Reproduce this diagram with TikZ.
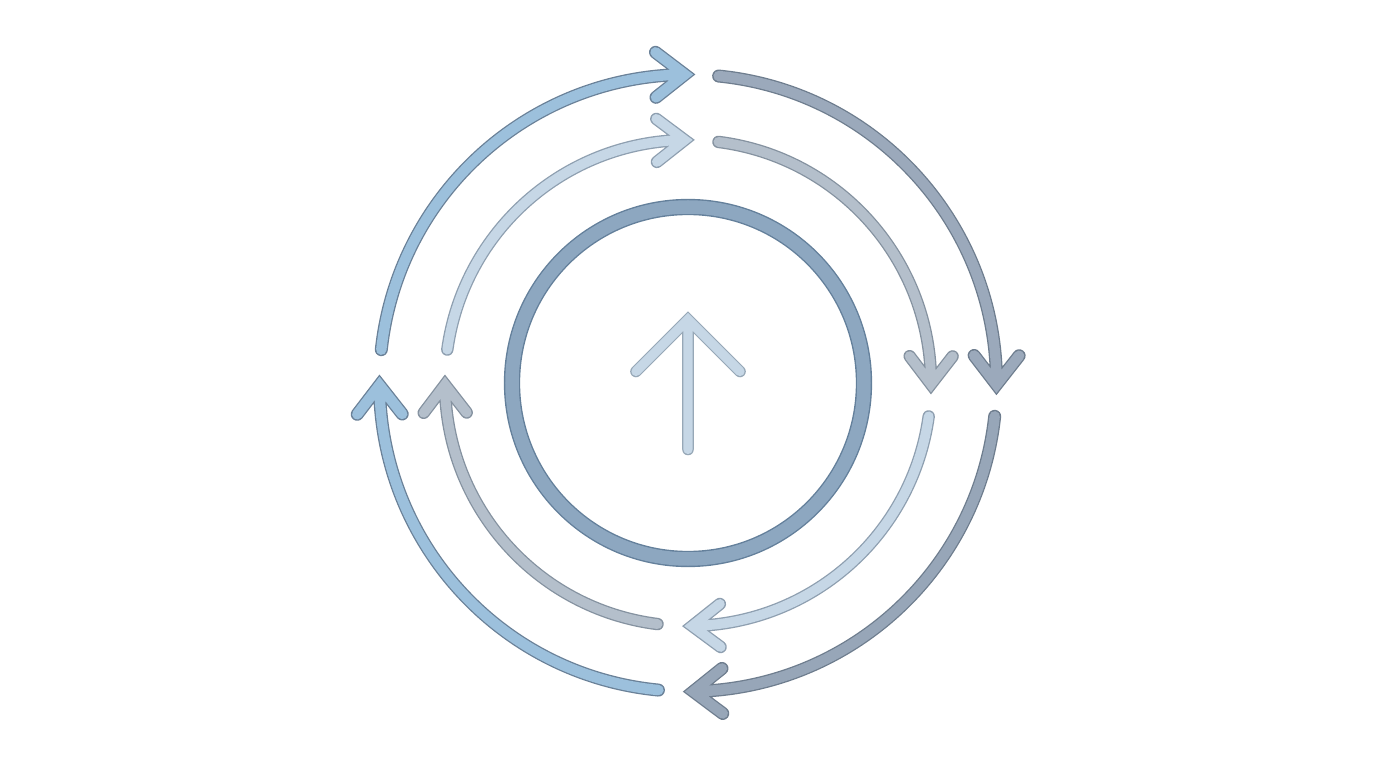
\documentclass[tikz,border=0pt]{standalone}
\definecolor{oblue}{HTML}{9CC0DC}
\definecolor{oblueD}{HTML}{6A8198}
\definecolor{ogray}{HTML}{9BA9BB}
\definecolor{ograyD}{HTML}{6E7D8E}
\definecolor{ograyb}{HTML}{97A6B8}
\definecolor{mlight}{HTML}{C6D7E6}
\definecolor{mlightD}{HTML}{8E9FB0}
\definecolor{mgray}{HTML}{B4BFCB}
\definecolor{mgrayD}{HTML}{8592A0}
\definecolor{icirc}{HTML}{8DA7C0}
\definecolor{icircD}{HTML}{64809B}
\definecolor{carrow}{HTML}{C6D7E6}
\definecolor{carrowD}{HTML}{97A8B7}
\tikzset{ol/.style={line cap=round, line join=miter, miter limit=10}}
% #1 radius, #2 start angle, #3 tip angle, #4 fill, #5 outline, #6 lateral, #7 back, #8 inner width
\newcommand\ringarrow[8]{%
  \pgfmathsetmacro\rax{(#1+#6)*cos(#3)-#7*sin(#3)}%
  \pgfmathsetmacro\ray{(#1+#6)*sin(#3)+#7*cos(#3)}%
  \pgfmathsetmacro\rbx{(#1-#6)*cos(#3)-#7*sin(#3)}%
  \pgfmathsetmacro\rby{(#1-#6)*sin(#3)+#7*cos(#3)}%
  \draw[ol, line width=1.3pt, draw=#5, double=#4, double distance=#8pt]
    (#2:#1pt) arc[start angle=#2, end angle=#3, radius=#1pt]
    (\rax pt,\ray pt) -- (#3:#1pt) -- (\rbx pt,\rby pt);
}
\begin{document}
\begin{tikzpicture}[x=1pt,y=1pt]
\fill[white] (-688pt,-385pt) rectangle (688pt,383pt);
\useasboundingbox (-688pt,-385pt) rectangle (688pt,383pt);
% inner circle
\draw[line width=1.4pt, draw=icircD, double=icirc, double distance=13.5pt] (0,0) circle[radius=176pt];
% centre arrow
\draw[ol, line width=1.2pt, draw=carrowD, double=carrow, double distance=9.2pt]
  (0pt,-66.5pt) -- (0pt,63.5pt) (-52pt,11.5pt) -- (0pt,63.5pt) -- (52pt,11.5pt);
% outer ring
\ringarrow{308.5}{173.8}{90.6}{oblue}{oblueD}{22.5}{29}{10.4}
\ringarrow{308.5}{84.3}{-0.3}{ogray}{ograyD}{22.5}{29}{10.4}
\ringarrow{308.5}{-6.2}{-89}{ograyb}{ograyD}{22.5}{29}{10.4}
\ringarrow{308.5}{-95.5}{-179.6}{oblue}{oblueD}{22.5}{29}{10.4}
% middle ring
\ringarrow{243}{172.1}{90.8}{mlight}{mlightD}{21.5}{28}{9.8}
\ringarrow{243}{82.8}{-0.3}{mgray}{mgrayD}{21.5}{28}{9.8}
\ringarrow{243}{-7.9}{-89}{mlight}{mlightD}{21.5}{28}{9.8}
\ringarrow{243}{-97.2}{-179.6}{mgray}{mgrayD}{21.5}{28}{9.8}
\end{tikzpicture}
\end{document}
